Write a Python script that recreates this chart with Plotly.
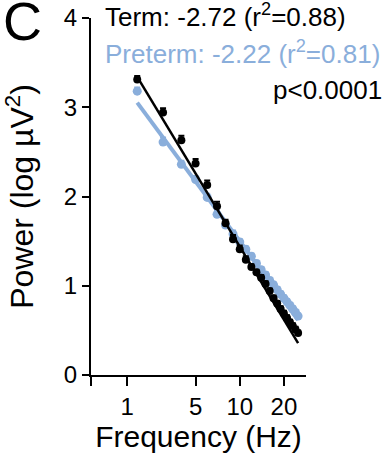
import numpy as np
import plotly.graph_objects as go

freq = [2, 3, 4, 5, 6, 7, 8, 9, 10, 11, 12, 13, 14, 15, 16, 17, 18, 19, 20, 21, 22, 23, 24, 25]
term = [3.31, 2.94, 2.63, 2.37, 2.13, 1.89, 1.70, 1.52, 1.41, 1.29, 1.21, 1.15, 1.09, 1.02,
        0.94, 0.86, 0.80, 0.74, 0.69, 0.64, 0.59, 0.55, 0.51, 0.47]
term_err = [0.04, 0.05, 0.05, 0.05, 0.05, 0.05, 0.04, 0.05, 0.04, 0.04, 0.03, 0.03, 0.03, 0.03,
            0.03, 0.03, 0.03, 0.03, 0.03, 0.03, 0.03, 0.03, 0.03, 0.03]
preterm = [3.18, 2.61, 2.36, 2.19, 1.99, 1.80, 1.68, 1.58, 1.49, 1.41, 1.33, 1.25, 1.18, 1.12,
           1.06, 1.01, 0.955, 0.905, 0.86, 0.82, 0.78, 0.74, 0.70, 0.66]
preterm_err = [0.04, 0.05, 0.04, 0.04, 0.04, 0.04, 0.04, 0.04, 0.03, 0.03, 0.03, 0.03, 0.03, 0.03,
               0.03, 0.03, 0.03, 0.03, 0.03, 0.03, 0.03, 0.03, 0.03, 0.03]

# regression lines (log10 power vs log10 frequency)
term_slope, term_intercept = -2.72, 4.16
preterm_slope, preterm_intercept = -2.22, 3.72
fit_range = [2, 25]

xtick_vals = [0.968, 1.71, 5, 10, 20]
xtick_text = ["", "1", "5", "10", "20"]
ytick_vals = [0, 1, 2, 3, 4]

BLUE = "#8aaedb"
FONT = "Liberation Sans, Arial, sans-serif"

term_fit = [term_intercept + term_slope * np.log10(f) for f in fit_range]
pre_fit = [preterm_intercept + preterm_slope * np.log10(f) for f in fit_range]

fig = go.Figure()
fig.add_trace(go.Scatter(x=fit_range, y=pre_fit, mode="lines",
                         line=dict(color=BLUE, width=4), showlegend=False))
fig.add_trace(go.Scatter(x=freq, y=preterm, mode="markers",
                         marker=dict(color=BLUE, size=9),
                         error_y=dict(type="data", array=preterm_err, arrayminus=[0]*len(freq),
                                      color=BLUE, thickness=2, width=3),
                         showlegend=False))
fig.add_trace(go.Scatter(x=fit_range, y=term_fit, mode="lines",
                         line=dict(color="black", width=2.5), showlegend=False))
fig.add_trace(go.Scatter(x=freq, y=term, mode="markers",
                         marker=dict(color="black", size=8),
                         error_y=dict(type="data", array=term_err, arrayminus=[0]*len(freq),
                                      color="black", thickness=2, width=3),
                         showlegend=False))

PH = 357.0
fig.update_layout(
    width=387, height=456,
    margin=dict(l=91, r=81, t=18, b=81, autoexpand=False),
    paper_bgcolor="white", plot_bgcolor="white",
    font=dict(family=FONT, color="black", size=24),
    xaxis=dict(type="log", range=[np.log10(0.968), np.log10(28.3)],
               showline=True, linecolor="black", linewidth=2, automargin=False,
               ticks="outside", ticklen=9, tickwidth=2, tickcolor="black",
               tickvals=xtick_vals, ticktext=xtick_text,
               showgrid=False, zeroline=False,
               tickfont=dict(size=24),
               title=dict(text="Frequency (Hz)", font=dict(size=30), standoff=2)),
    yaxis=dict(range=[0, 4], showline=True, linecolor="black", linewidth=2, automargin=False,
               ticks="outside", ticklen=7, tickwidth=2, tickcolor="black",
               tickvals=ytick_vals, showgrid=False, zeroline=False,
               tickfont=dict(size=24),
               title=dict(text="Power (log µV<sup>2</sup>)", font=dict(size=32), standoff=21)),
    annotations=[
        dict(text="C", xref="paper", yref="paper", x=-90/215, y=1-(21-18)/PH,
             xanchor="left", yanchor="middle",
             showarrow=False, font=dict(size=54, color="black")),
        dict(text="Term: -2.72 (r<sup>2</sup>=0.88)", xref="paper", yref="paper",
             x=12/215, y=1+(18-15)/PH, xanchor="left", yanchor="middle", showarrow=False,
             font=dict(size=26, color="black")),
        dict(text="Preterm: -2.22 (r<sup>2</sup>=0.81)", xref="paper", yref="paper",
             x=12/215, y=1-(52-18)/PH, xanchor="left", yanchor="middle", showarrow=False,
             font=dict(size=26, color=BLUE)),
        dict(text="p<0.0001", xref="paper", yref="paper",
             x=(384-91)/215, y=1-(90-18)/PH, xanchor="right", yanchor="middle", showarrow=False,
             font=dict(size=26, color="black")),
    ],
)

fig.write_html("out.html", config={"displayModeBar": False},
               post_script="document.body.style.margin='0';")
